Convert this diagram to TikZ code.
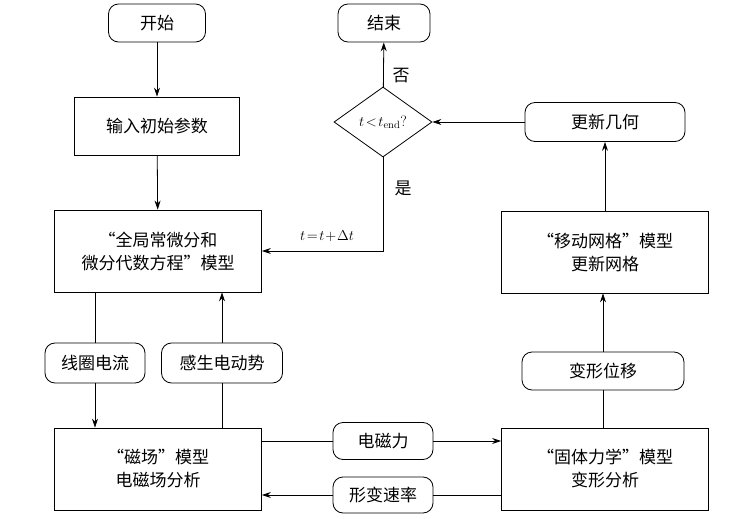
\documentclass[tikz,border=0pt]{standalone}
\usepackage{fontspec}
\newfontfamily\cjk{Noto Sans CJK SC}
\usetikzlibrary{shapes.geometric,arrows.meta}
\tikzset{
  box/.style={draw, thick, minimum width=207pt, minimum height=82pt, align=center, font=\cjk\fontsize{17}{23}\selectfont},
  rbox/.style={draw, thick, rounded corners=10pt, minimum height=38pt, align=center, font=\cjk\fontsize{17}{21}\selectfont},
  line/.style={thick, -{Stealth[length=9pt,width=6pt]}},
  lab/.style={font=\cjk\fontsize{17}{21}\selectfont}
}
\begin{document}
\begin{tikzpicture}[x=1pt,y=-1pt]
        \useasboundingbox (0,0) rectangle (740,519);

        % Left column
        \node [rbox, minimum width=97pt] (start) at (157,23) {开始};
        \node [box, minimum width=165pt, minimum height=58pt] (input) at (157,126) {输入初始参数};
        \node [box] (global) at (158,251) {“全局常微分和\\微分代数方程”模型};
        \node [rbox, minimum width=100pt, minimum height=40pt] (coil) at (95,363) {线圈电流};
        \node [rbox, minimum width=121pt, minimum height=40pt] (emf) at (222,363) {感生电动势};
        \node [box] (magnet) at (158,469) {“磁场”模型\\电磁场分析};

        % Middle
        \node [rbox, minimum width=92pt] (stop) at (384,23) {结束};
        \node [diamond, draw, thick, minimum width=98pt, minimum height=70pt, inner sep=0pt] (check) at (383,122) {};
        \node [font=\fontsize{15}{18}\selectfont] at (check) {$t\!<\!t_{\mathrm{end}}$?};
        \node [rbox, minimum width=100pt, minimum height=37pt] (force) at (383,441) {电磁力};
        \node [rbox, minimum width=100pt, minimum height=36pt] (rate) at (383,495) {形变速率};

        % Right column
        \node [rbox, minimum width=160pt, minimum height=39pt] (geom) at (605,122) {更新几何};
        \node [box] (mesh) at (605,252) {“移动网格”模型\\更新网格};
        \node [rbox, minimum width=162pt] (disp) at (603,371) {变形位移};
        \node [box] (solid) at (605,469) {“固体力学”模型\\变形分析};

        % Connectors
        \draw [line] (start) -- (input);
        \draw [line] (input) -- (global);
        \draw [thick] (global.south -| coil) -- (coil);
        \draw [line] (coil) -- (magnet.north -| coil);
        \draw [thick] (magnet.north -| emf) -- (emf);
        \draw [line] (emf) -- (global.south -| emf);
        \draw [thick] (magnet.east |- force) -- (force);
        \draw [line] (force) -- (solid.west |- force);
        \draw [thick] (solid.west |- rate) -- (rate);
        \draw [line] (rate) -- (magnet.east |- rate);
        \draw [thick] (solid.north -| disp) -- (disp);
        \draw [line] (disp) -- (mesh.south -| disp);
        \draw [line] (mesh) -- (geom);
        \draw [line] (geom) -- (check);
        \draw [line] (check) -- (stop);
        \draw [line] (check.south) |- (global.east);

        % Labels
        \node [lab] at (401,76) {否};
        \node [lab] at (403,188) {是};
        \node [font=\fontsize{15}{18}\selectfont] at (327,236) {$t\!=\!t\!+\!\Delta t$};
\end{tikzpicture}
\end{document}
